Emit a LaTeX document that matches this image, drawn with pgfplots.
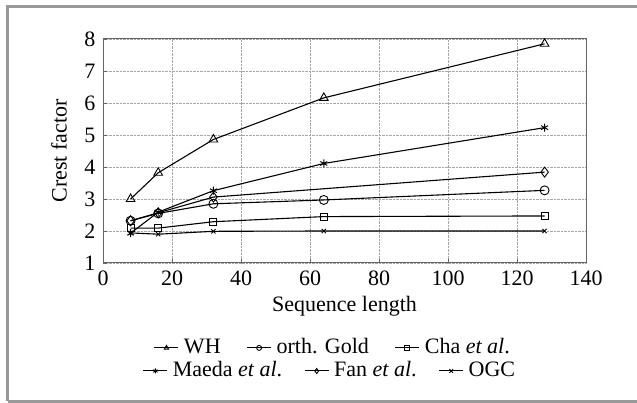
\documentclass[border=0pt]{standalone}
\usepackage{pgfplots}
\pgfplotsset{compat=1.18}
\usepackage{fontspec}
\setmainfont{Liberation Serif}
\begin{document}
\fontsize{22}{26}\selectfont
\begin{tikzpicture}
\useasboundingbox (0pt,0pt) rectangle (637pt,403pt);
\draw[line width=3pt, color=black!40] (7.5pt,1.5pt) -- (7.5pt,396.5pt) -- (650pt,396.5pt);
\draw[line width=3pt, color=black!40] (7.5pt,1.5pt) -- (650pt,1.5pt);
\pgfplotsset{
  every axis plot/.append style={line width=1.1pt, black, mark options={solid, line width=0.9pt}},
  mylegend/.style={
    legend image code/.code={\draw[mark repeat=2,mark phase=2] plot coordinates {(0pt,0pt) (12pt,0pt) (24pt,0pt)};},
    legend image post style={line width=1pt, mark size=2.5pt},
    legend columns=3,
  },
}
\begin{axis}[
  at={(103pt,140pt)}, anchor=south west,
  width=483pt, height=224pt, scale only axis,
  xmin=0, xmax=140, ymin=1, ymax=8,
  xtick={0,20,...,140}, ytick={1,...,8},
  grid=major,
  major grid style={densely dotted, black!35, line width=0.6pt},
  axis line style={black!60, line width=1pt},
  tick style={black!60, line width=0.8pt},
  major tick length=4pt,
  tick pos=left,
  tick label style={font=\fontsize{22}{26}\selectfont},
  label style={font=\fontsize{22}{26}\selectfont},
  /pgf/number format/assume math mode=true,
  xlabel={Sequence length},
  ylabel={Crest factor},
  xlabel style={at={(axis description cs:0.5,-0.195)}, anchor=center},
  ylabel style={at={(axis description cs:-0.091,0.5)}, anchor=center, rotate=0},
  mylegend,
  legend style={at={(0.476,-0.379)}, anchor=center, draw=none, fill=none,
    font=\fontsize{22}{26}\selectfont, legend cell align=left,
    /tikz/every odd column/.append style={column sep=3pt},
    /tikz/every even column/.append style={column sep=24pt}},
]
\addplot[mark=triangle, mark size=5pt] coordinates {(8,3.0) (16,3.82) (32,4.86) (64,6.16) (128,7.85)};
\addlegendentry{WH}
\addplot[mark=o, mark size=4.5pt] coordinates {(8,2.32) (16,2.55) (32,2.85) (64,2.97) (128,3.27)};
\addlegendentry{orth. Gold}
\addplot[mark=square, mark size=3.5pt] coordinates {(8,2.09) (16,2.09) (32,2.29) (64,2.45) (128,2.47)};
\addlegendentry{Cha \textit{et al}.}
\addplot[mark=asterisk, mark size=4pt, forget plot] coordinates {(8,1.93) (16,2.59) (32,3.26) (64,4.11) (128,5.23)};
\addplot[mark=diamond, mark size=5pt, forget plot] coordinates {(8,2.32) (16,2.57) (32,3.06) (128,3.84)};
\addplot[mark=x, mark size=3pt, forget plot] coordinates {(8,1.94) (16,1.9) (32,1.99) (64,2.0) (128,2.0)};
\end{axis}
\begin{axis}[
  at={(103pt,140pt)}, anchor=south west,
  width=483pt, height=224pt, scale only axis,
  hide axis, xmin=0, xmax=1, ymin=0, ymax=1,
  mylegend,
  legend style={at={(0.470,-0.482)}, anchor=center, draw=none, fill=none,
    font=\fontsize{22}{26}\selectfont, legend cell align=left,
    /tikz/every odd column/.append style={column sep=3pt},
    /tikz/every even column/.append style={column sep=20pt}},
]
\addlegendimage{black, line width=1pt, mark=asterisk, mark options={solid, line width=0.9pt}}
\addlegendentry{Maeda \textit{et al}.}
\addlegendimage{black, line width=1pt, mark=diamond, mark options={solid, line width=0.9pt}}
\addlegendentry{Fan \textit{et al}.}
\addlegendimage{black, line width=1pt, mark=x, mark options={solid, line width=0.9pt}}
\addlegendentry{OGC}
\end{axis}
\end{tikzpicture}
\end{document}
